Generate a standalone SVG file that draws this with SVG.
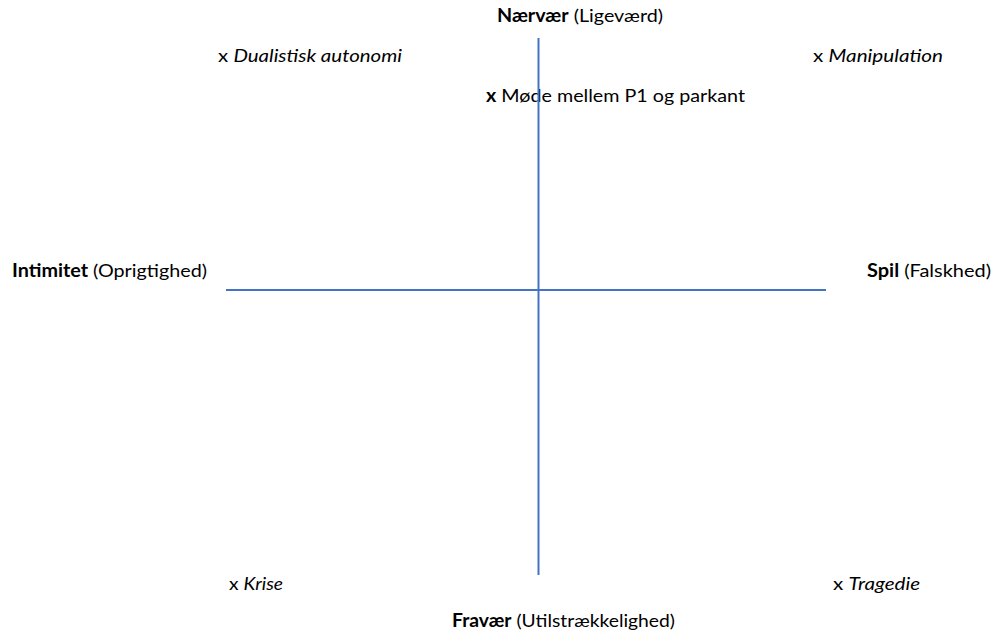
<svg xmlns="http://www.w3.org/2000/svg" width="993" height="636" viewBox="0 0 993 636">
  <style>
    .t { font-family: Lato, "Open Sans", "Liberation Sans", sans-serif; font-size: 18px; fill: #000; }
    .b { font-weight: bold; }
    .i { font-style: italic; }
    .axis { stroke: #4472C4; stroke-width: 2; fill: none; }
  </style>
  <rect width="993" height="636" fill="#fff"/>
  <g id="naervaer">
    <text class="t" x="497" y="22" textLength="166" lengthAdjust="spacingAndGlyphs"><tspan class="b">Nærvær</tspan> (Ligeværd)</text>
  </g>
  <g id="dualistisk">
    <text class="t" x="218" y="62" textLength="184" lengthAdjust="spacingAndGlyphs">x <tspan class="i">Dualistisk autonomi</tspan></text>
  </g>
  <g id="manipulation">
    <text class="t" x="813" y="62" textLength="130" lengthAdjust="spacingAndGlyphs">x <tspan class="i">Manipulation</tspan></text>
  </g>
  <g id="moede">
    <text class="t" x="486" y="102" textLength="259" lengthAdjust="spacingAndGlyphs"><tspan class="b">x</tspan> Møde mellem P1 og parkant</text>
  </g>
  <g id="intimitet">
    <text class="t" x="12" y="277" textLength="195" lengthAdjust="spacingAndGlyphs"><tspan class="b">Intimitet</tspan> (Oprigtighed)</text>
  </g>
  <g id="spil">
    <text class="t" x="867" y="277" textLength="124" lengthAdjust="spacingAndGlyphs"><tspan class="b">Spil</tspan> (Falskhed)</text>
  </g>
  <g id="krise">
    <text class="t" x="229" y="590" textLength="54" lengthAdjust="spacingAndGlyphs">x <tspan class="i">Krise</tspan></text>
  </g>
  <g id="tragedie">
    <text class="t" x="833" y="590" textLength="87" lengthAdjust="spacingAndGlyphs">x <tspan class="i">Tragedie</tspan></text>
  </g>
  <g id="fravaer">
    <text class="t" x="452" y="627" textLength="223" lengthAdjust="spacingAndGlyphs"><tspan class="b">Fravær</tspan> (Utilstrækkelighed)</text>
  </g>
  <g id="connectors">
    <line class="axis" x1="538.5" y1="38" x2="538.5" y2="575"/>
    <line class="axis" x1="226" y1="290" x2="826" y2="290"/>
  </g>
</svg>
